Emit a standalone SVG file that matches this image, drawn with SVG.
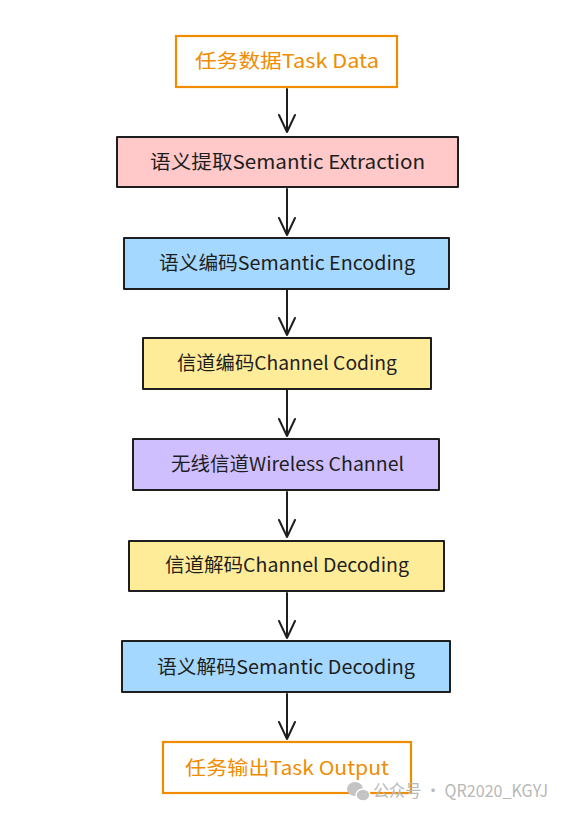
<svg xmlns="http://www.w3.org/2000/svg" width="566" height="814" viewBox="0 0 566 814">
<style>
.box{stroke:#1e1e1e;stroke-width:2;stroke-linejoin:round}
.obox{fill:#ffffff;stroke:#f08c00;stroke-width:2.2}
.t{font-family:"Noto Sans CJK SC","Noto Sans",sans-serif;font-size:19px;fill:#1e1e1e;text-anchor:middle}
.ot{fill:#f08c00}
.c{stroke:#1e1e1e;stroke-width:2;fill:none;stroke-linecap:round;stroke-linejoin:round}
.wm{font-family:"Noto Sans CJK SC","Noto Sans",sans-serif;font-size:17px;fill:#b8b8b8}
</style>
<rect width="566" height="814" fill="#ffffff"/>
<g id="connectors">
<path class="c" d="M287 89 L287 132 M279 115 L287 132 L295 115"/>
<path class="c" d="M287 189 L287 235 M279 218 L287 235 L295 218"/>
<path class="c" d="M287 290 L287 335 M279 318 L287 335 L295 318"/>
<path class="c" d="M287 390 L287 436 M279 419 L287 436 L295 419"/>
<path class="c" d="M287 492 L287 537 M279 520 L287 537 L295 520"/>
<path class="c" d="M287 593 L287 638 M279 621 L287 638 L295 621"/>
<path class="c" d="M287 694 L287 739 M279 722 L287 739 L295 722"/>
</g>
<g id="task-data">
<rect class="obox" x="176" y="36" width="221" height="51"/>
<text class="t ot" x="287" y="68" textLength="184" lengthAdjust="spacingAndGlyphs">任务数据Task Data</text>
</g>
<g id="semantic-extraction">
<rect class="box" x="117" y="137" width="341" height="50" fill="#ffc9c9"/>
<text class="t" x="287.5" y="169" textLength="275" lengthAdjust="spacingAndGlyphs">语义提取Semantic Extraction</text>
</g>
<g id="semantic-encoding">
<rect class="box" x="124" y="238" width="325" height="51" fill="#a5d8ff"/>
<text class="t" x="287" y="270" textLength="256" lengthAdjust="spacingAndGlyphs">语义编码Semantic Encoding</text>
</g>
<g id="channel-coding">
<rect class="box" x="143" y="338" width="288" height="51" fill="#ffec99"/>
<text class="t" x="287" y="370" textLength="220" lengthAdjust="spacingAndGlyphs">信道编码Channel Coding</text>
</g>
<g id="wireless-channel">
<rect class="box" x="133" y="439" width="306" height="51" fill="#d0bfff"/>
<text class="t" x="287.5" y="471" textLength="233" lengthAdjust="spacingAndGlyphs">无线信道Wireless Channel</text>
</g>
<g id="channel-decoding">
<rect class="box" x="129" y="541" width="315" height="50" fill="#ffec99"/>
<text class="t" x="287" y="572" textLength="244" lengthAdjust="spacingAndGlyphs">信道解码Channel Decoding</text>
</g>
<g id="semantic-decoding">
<rect class="box" x="122" y="641" width="328" height="51" fill="#a5d8ff"/>
<text class="t" x="286" y="674" textLength="258" lengthAdjust="spacingAndGlyphs">语义解码Semantic Decoding</text>
</g>
<g id="task-output">
<rect class="obox" x="163" y="742" width="248" height="51"/>
<text class="t ot" x="287" y="775" textLength="204" lengthAdjust="spacingAndGlyphs">任务输出Task Output</text>
</g>
<g id="watermark">
<ellipse cx="355" cy="789" rx="8" ry="7" fill="#c4c4c4"/>
<ellipse cx="363" cy="795" rx="7" ry="6" fill="#c4c4c4" stroke="#ffffff" stroke-width="1.5"/>
<text class="wm" x="373" y="797" textLength="175" lengthAdjust="spacingAndGlyphs">公众号 · QR2020_KGYJ</text>
</g>
</svg>
